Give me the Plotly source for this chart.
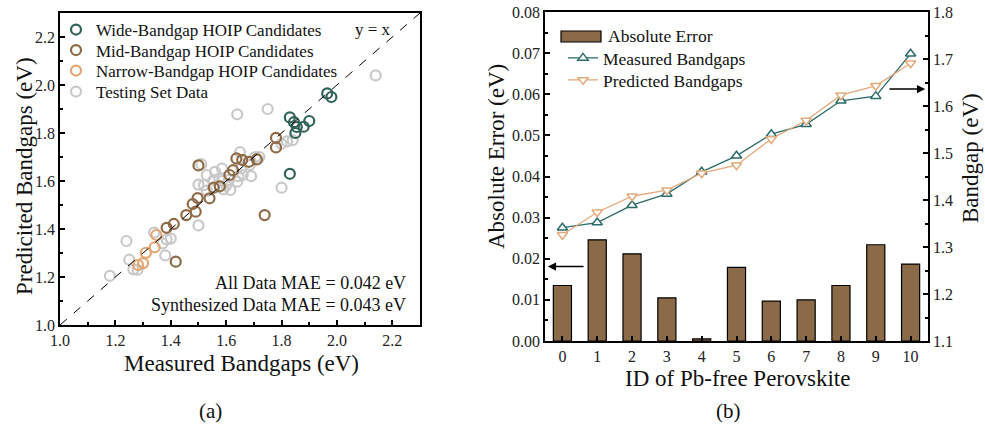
import plotly.graph_objects as go

# ---------------- data: panel (a) ----------------
wide_x = [1.83, 1.845, 1.855, 1.85, 1.88, 1.90, 1.83, 1.965, 1.98]
wide_y = [1.865, 1.845, 1.825, 1.80, 1.826, 1.85, 1.63, 1.965, 1.95]

mid_x = [1.50, 1.637, 1.658, 1.682, 1.711, 1.78, 1.78, 1.612, 1.625, 1.577,
         1.555, 1.540, 1.497, 1.479, 1.490, 1.456, 1.411, 1.385, 1.418, 1.739]
mid_y = [1.665, 1.694, 1.688, 1.680, 1.690, 1.78, 1.74, 1.625, 1.645, 1.578,
         1.572, 1.528, 1.529, 1.504, 1.472, 1.458, 1.421, 1.405, 1.264, 1.458]

narrow_x = [1.348, 1.342, 1.310, 1.300, 1.282]
narrow_y = [1.375, 1.324, 1.301, 1.258, 1.250]

test_x = [2.14, 1.64, 1.75, 1.80, 1.82, 1.84, 1.80, 1.69, 1.705, 1.72, 1.65, 1.645,
          1.51, 1.53, 1.56, 1.585, 1.575, 1.555, 1.585, 1.61, 1.50, 1.52, 1.53, 1.59,
          1.615, 1.64, 1.66, 1.655, 1.685, 1.60, 1.50, 1.34, 1.385, 1.37, 1.40, 1.38,
          1.24, 1.25, 1.265, 1.28, 1.18]
test_y = [2.04, 1.878, 1.90, 1.755, 1.765, 1.77, 1.572, 1.62, 1.70, 1.70, 1.72, 1.62,
          1.67, 1.625, 1.638, 1.652, 1.61, 1.604, 1.60, 1.604, 1.585, 1.583, 1.56, 1.565,
          1.563, 1.597, 1.625, 1.653, 1.667, 1.58, 1.415, 1.385, 1.357, 1.34, 1.36, 1.29,
          1.35, 1.272, 1.232, 1.23, 1.205]

diag = [1.0, 2.3]

# ---------------- data: panel (b) ----------------
ids = list(range(11))
abs_error = [0.0135, 0.0246, 0.0212, 0.0105, 0.0005, 0.0179, 0.0097, 0.0100, 0.0135, 0.0234, 0.0187]
measured = [1.341, 1.352, 1.389, 1.413, 1.460, 1.494, 1.540, 1.561, 1.611, 1.621, 1.711]
predicted = [1.326, 1.374, 1.408, 1.421, 1.457, 1.474, 1.530, 1.569, 1.623, 1.643, 1.691]

# ---------------- styling ----------------
FONT = "Liberation Serif"
W, H = 985, 428
C_WIDE = "#2f6357"
C_MID = "#8e6a47"
C_NARROW = "#e3a672"
C_TEST = "#c9c9c9"
C_BAR = "#8b6a48"
C_MEAS = "#2c6b6b"
C_PRED = "#e3aa7c"
TXT = "#111"


def px(x):
    return x / W


def py(y):
    return 1 - y / H


fig = go.Figure()

circ = dict(symbol="circle-open", size=10, line=dict(width=2.2))

fig.add_trace(go.Scatter(x=test_x, y=test_y, mode="markers", name="Testing Set Data",
                         marker=dict(color=C_TEST, **circ), legend="legend4",
                         xaxis="x", yaxis="y"))
fig.add_trace(go.Scatter(x=narrow_x, y=narrow_y, mode="markers", name="Narrow-Bandgap HOIP Candidates",
                         marker=dict(color=C_NARROW, **circ), legend="legend3",
                         xaxis="x", yaxis="y"))
fig.add_trace(go.Scatter(x=mid_x, y=mid_y, mode="markers", name="Mid-Bandgap HOIP Candidates",
                         marker=dict(color=C_MID, **circ), legend="legend2",
                         xaxis="x", yaxis="y"))
fig.add_trace(go.Scatter(x=wide_x, y=wide_y, mode="markers", name="Wide-Bandgap HOIP Candidates",
                         marker=dict(color=C_WIDE, **circ), legend="legend",
                         xaxis="x", yaxis="y"))
fig.add_trace(go.Scatter(x=diag, y=diag, mode="lines", showlegend=False,
                         line=dict(color="black", width=1, dash="dash"), xaxis="x", yaxis="y"))

fig.add_trace(go.Bar(x=ids, y=abs_error, name="Absolute Error", width=0.52, showlegend=False,
                     marker=dict(color=C_BAR, line=dict(color="black", width=1.2)),
                     xaxis="x2", yaxis="y2"))
fig.add_trace(go.Scatter(x=ids, y=measured, name="Measured Bandgaps", mode="lines+markers",
                         line=dict(color=C_MEAS, width=1.3),
                         marker=dict(symbol="triangle-up", size=9, color="white",
                                     line=dict(color=C_MEAS, width=1.5)),
                         legend="legend5", xaxis="x2", yaxis="y3"))
fig.add_trace(go.Scatter(x=ids, y=predicted, name="Predicted Bandgaps", mode="lines+markers",
                         line=dict(color=C_PRED, width=1.3),
                         marker=dict(symbol="triangle-down", size=9, color="white",
                                     line=dict(color=C_PRED, width=1.5)),
                         legend="legend6", xaxis="x2", yaxis="y3"))

axis_common = dict(showline=True, linecolor="black", linewidth=1.8, ticks="inside",
                   ticklen=5, tickwidth=1.5, tickcolor="black", showgrid=False, zeroline=False,
                   tickfont=dict(family=FONT, size=16, color="#222"))


def leg(x, y, size):
    return dict(x=px(x), y=py(y), xanchor="left", yanchor="middle", bgcolor="rgba(0,0,0,0)",
                font=dict(family=FONT, size=size, color=TXT), itemwidth=30)


fig.update_layout(
    width=W, height=H, margin=dict(l=0, r=0, t=0, b=0, autoexpand=False),
    paper_bgcolor="white", plot_bgcolor="white",
    font=dict(family=FONT, color="black"),
    xaxis=dict(domain=[px(60), px(420)], range=[1.0, 2.3], tick0=1.0, dtick=0.2,
               tickformat=".1f", mirror=True,
               minor=dict(ticks="inside", ticklen=3, dtick=0.1, tick0=1.0, tickcolor="black"),
               **axis_common),
    yaxis=dict(domain=[py(325), py(13)], range=[1.0, 2.3], tick0=1.0, dtick=0.2,
               tickformat=".1f", mirror=True, anchor="x",
               minor=dict(ticks="inside", ticklen=3, dtick=0.1, tick0=1.0, tickcolor="black"),
               **axis_common),
    xaxis2=dict(domain=[px(545), px(928)], range=[-0.5, 10.5], tick0=0, dtick=1,
                mirror=True, anchor="y2", **axis_common),
    yaxis2=dict(domain=[py(341), py(12)], range=[0, 0.08], dtick=0.01, tickformat=".2f",
                anchor="x2",
                minor=dict(ticks="inside", ticklen=3, dtick=0.005, tickcolor="black"),
                **axis_common),
    yaxis3=dict(range=[1.1, 1.8], dtick=0.1, tickformat=".1f", overlaying="y2", side="right",
                anchor="x2",
                minor=dict(ticks="inside", ticklen=3, dtick=0.05, tickcolor="black"),
                **axis_common),
    legend=leg(56, 30, 17),
    legend2=leg(56, 50.5, 17),
    legend3=leg(56, 71, 17),
    legend4=leg(56, 92, 17),
    legend5=leg(563, 58, 17.5),
    legend6=leg(563, 80, 17.5),
    showlegend=True,
)

# legend swatch for the bar series (decoration)
fig.add_shape(type="rect", xref="paper", yref="paper", x0=px(561), x1=px(601), y0=py(42), y1=py(31),
              fillcolor=C_BAR, line=dict(color="black", width=1.2))

ann = []


def text(x, y, s, size, angle=0, xanchor="center"):
    ann.append(dict(x=px(x), y=py(y), xref="paper", yref="paper", text=s, showarrow=False,
                    textangle=angle, xanchor=xanchor, yanchor="middle",
                    font=dict(family=FONT, size=size, color=TXT)))


text(606, 36, "Absolute Error", 17.5, xanchor="left")
text(24, 176, "Predicited Bandgaps (eV)", 23, -90)
text(241, 363, "Measured Bandgaps (eV)", 23)
text(210, 411, "(a)", 21)
text(496, 157, "Absolute Error (eV)", 23, -90)
text(970, 158, "Bandgap (eV)", 23, -90)
text(737, 378, "ID of Pb-free Perovskite", 23)
text(728, 411, "(b)", 21)
text(408, 283, "All Data MAE = 0.042 eV", 18, xanchor="right")
text(408, 305, "Synthesized Data MAE = 0.043 eV", 18, xanchor="right")
text(373, 30, "y = x", 17)

# direction arrows (decorations, placed in axis coordinates)
ann.append(dict(x=-0.42, y=0.0181, ax=0.65, ay=0.0181, xref="x2", yref="y2", axref="x2", ayref="y2",
                showarrow=True, arrowhead=2, arrowsize=1.1, arrowwidth=1.5, arrowcolor="black", text=""))
ann.append(dict(x=10.42, y=1.636, ax=9.35, ay=1.636, xref="x2", yref="y3", axref="x2", ayref="y3",
                showarrow=True, arrowhead=2, arrowsize=1.1, arrowwidth=1.5, arrowcolor="black", text=""))

fig.update_layout(annotations=ann)

fig.write_html("out.html")
